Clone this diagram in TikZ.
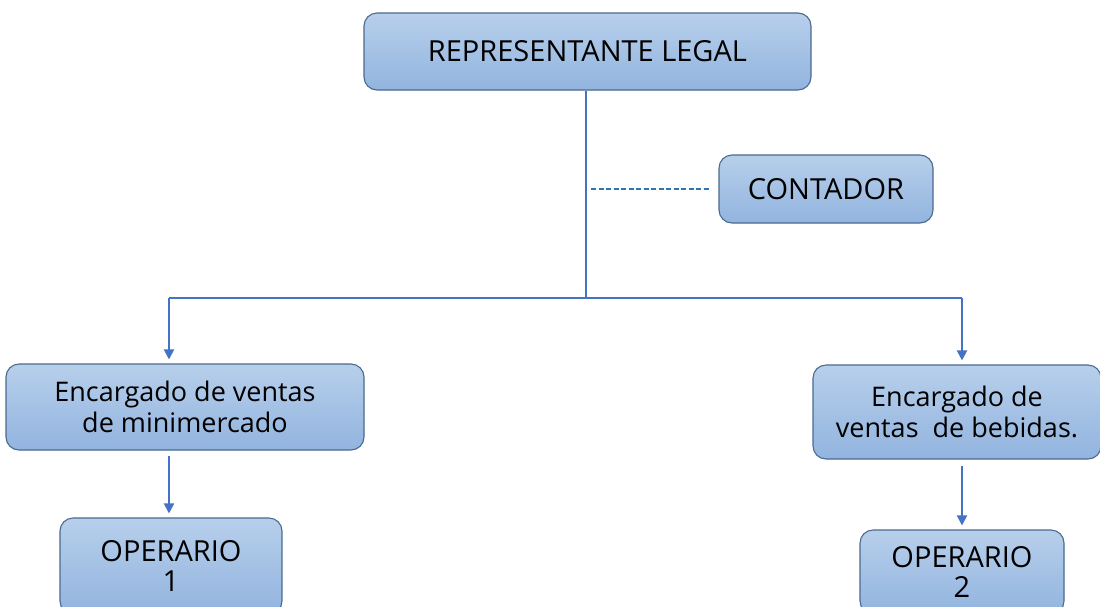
\documentclass[tikz,border=0pt]{standalone}
\usepackage{fontspec}
\setmainfont{Open Sans}
\usetikzlibrary{arrows.meta,calc}
\definecolor{linec}{HTML}{4472C4}
\definecolor{dashc}{HTML}{2E75B6}
\definecolor{boxtop}{HTML}{B7CFEB}
\definecolor{boxbot}{HTML}{92B4DF}
\definecolor{boxedge}{HTML}{4A6A8E}
\tikzset{
  box/.style={draw=boxedge, line width=1.1pt, rounded corners=13pt,
    top color=boxtop, bottom color=boxbot, align=center, inner sep=0pt,
    font=\fontsize{29}{30}\selectfont},
  lower/.style={font=\fontsize{27}{31}\selectfont},
  conn/.style={draw=linec, line width=2pt},
  arr/.style={conn, -{Triangle[width=10pt,length=10pt]}, shorten >=4pt},
  dashline/.style={draw=dashc, line width=2pt, dash pattern=on 5pt off 2.5pt}
}
\begin{document}
\begin{tikzpicture}[x=1pt,y=-1pt]
\useasboundingbox (0,0) rectangle (1100,606);
\node[box, minimum width=447pt, minimum height=77pt] (rep) at (587.5,51.5) {REPRESENTANTE LEGAL};
\node[box, minimum width=214pt, minimum height=68pt] (cont) at (826,189) {CONTADOR};
\node[box, lower, minimum width=358pt, minimum height=86pt] (enc1) at (185,407) {Encargado de ventas\\de minimercado};
\node[box, lower, minimum width=288pt, minimum height=94pt] (enc2) at (957,412) {Encargado de\\ventas \ de bebidas.};
\node[box, minimum width=222pt, minimum height=96pt] (op1) at (171,566) {OPERARIO\\1};
\node[box, minimum width=204pt, minimum height=84pt] (op2) at (962,572) {OPERARIO\\2};
\coordinate (j) at (586,298);
\coordinate (jl) at (169,298);
\coordinate (jr) at (962,298);
\coordinate (d) at (591,189);
\draw[conn] (rep.south -| j) -- (j);
\draw[conn] (jl) -- (jr);
\draw[arr] (jl) -- (jl |- enc1.north);
\draw[arr] (jr) -- (jr |- enc2.north);
\draw[dashline, shorten >=9pt] (d) -- (cont.west);
\draw[arr, shorten <=5pt] (jl |- enc1.south) -- (jl |- op1.north);
\draw[arr, shorten <=6pt] (jr |- enc2.south) -- (jr |- op2.north);
\end{tikzpicture}
\end{document}
